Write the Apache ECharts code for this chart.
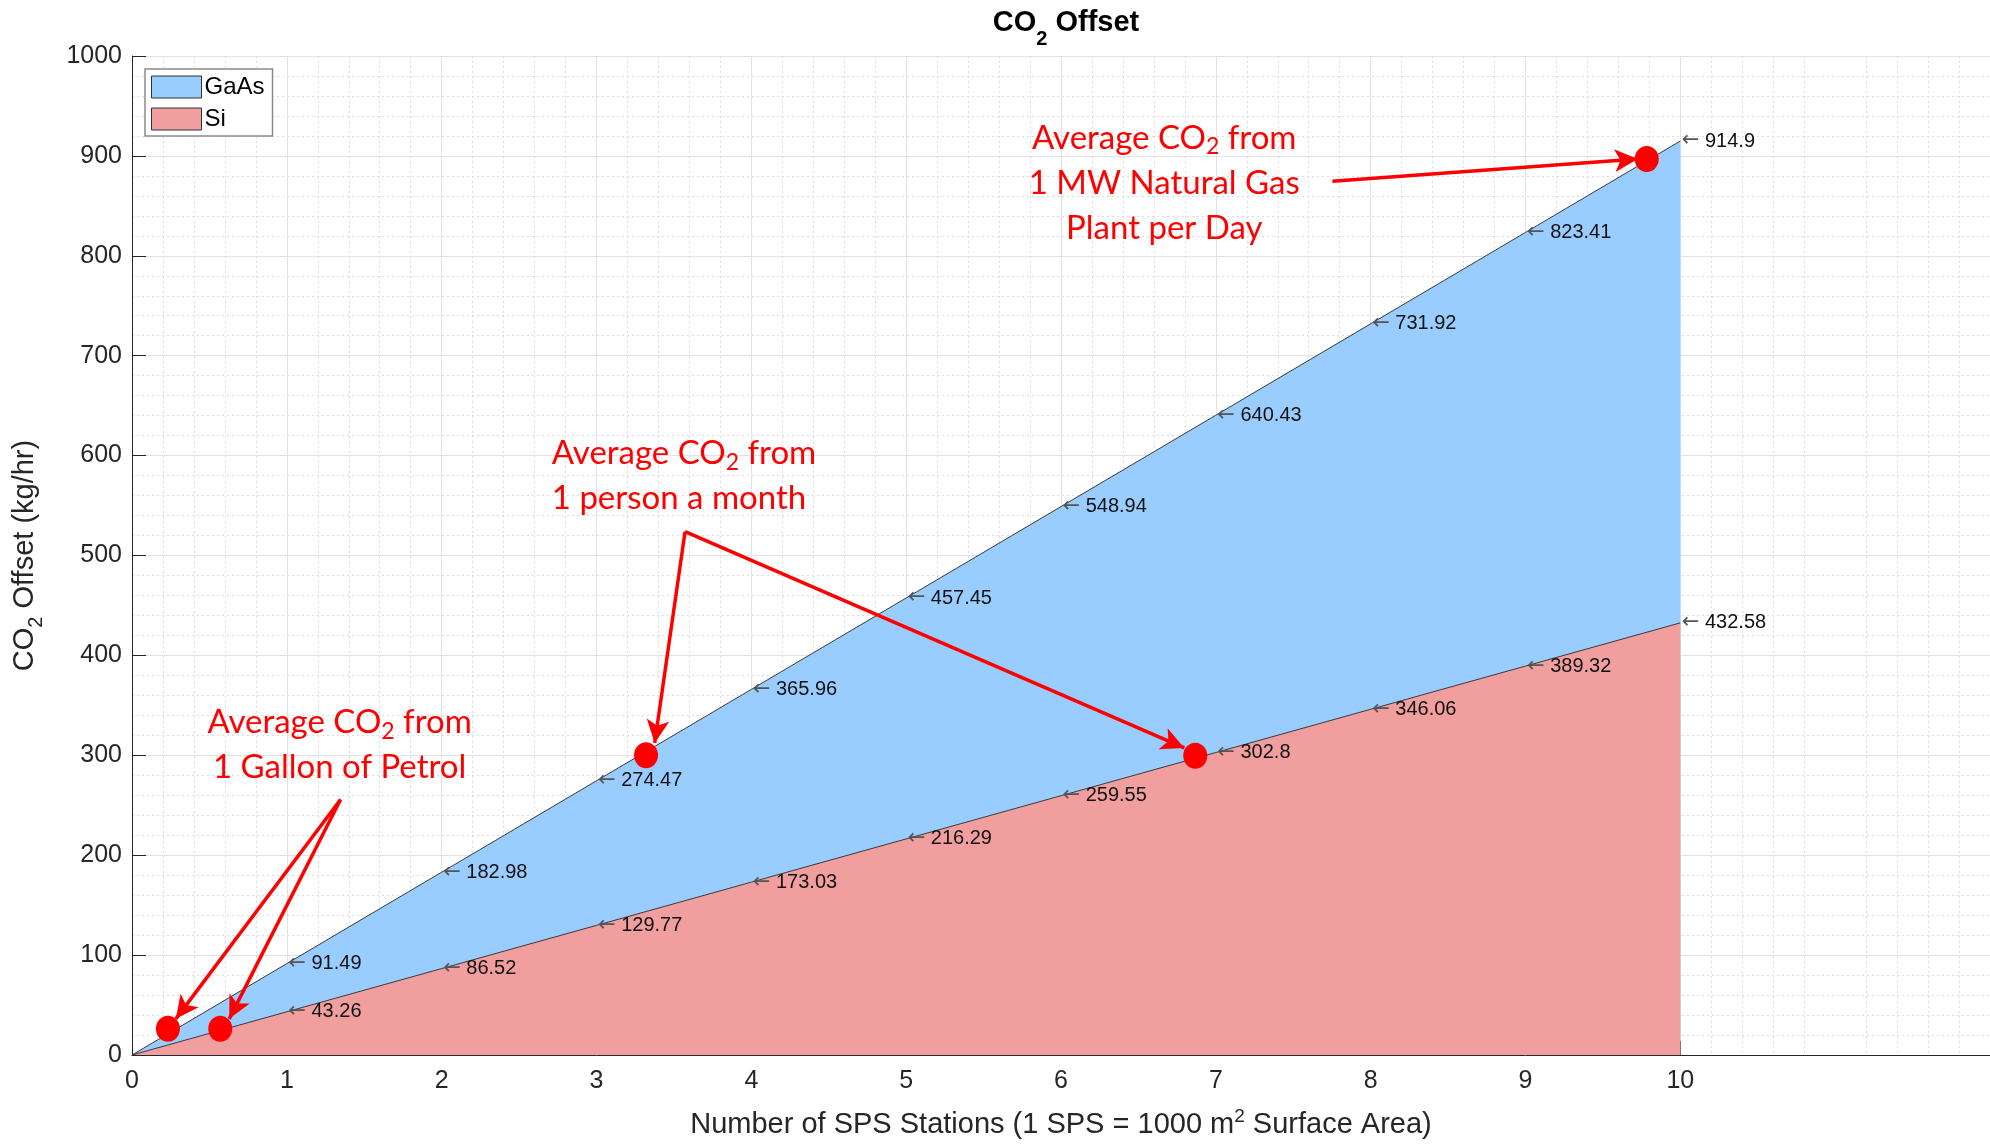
<!DOCTYPE html>
<html><head><meta charset="utf-8">
<script src="https://cdn.jsdelivr.net/npm/echarts@6/dist/echarts.min.js"></script>
<style>html,body{margin:0;padding:0;background:#fff}#c{width:1990px;height:1144px}</style>
</head><body><div id="c"></div>
<script>
// ---- data ----
const stations   = [0,1,2,3,4,5,6,7,8,9,10];
const gaasOffset = [0,91.49,182.98,274.47,365.96,457.45,548.94,640.43,731.92,823.41,914.9];
const siOffset   = [0,43.26,86.52,129.77,173.03,216.29,259.55,302.8,346.06,389.32,432.58];
const xTickValues = [0,1,2,3,4,5,6,7,8,9,10];
const seriesNames = ['GaAs','Si'];
// annotation markers (red dots) and arrows, in data coordinates
const markerPoints = [[0.232,26.3],[0.57,26.3],[3.32,300],[6.867,299.5],[9.783,896.9]];
const arrowFrom = [[1.347,255.8],[1.347,255.8],[3.572,523.9],[3.572,523.9],[7.753,874.6]];
const arrowTo   = [[0.283,36.2],[0.628,36.2],[3.376,312.4],[6.796,307.4],[9.725,896.9]];
const noteText  = ['Average CO{s|2} from\n1 Gallon of Petrol',
                   'Average CO{s|2} from\n1 person a month',
                   'Average CO{s|2} from\n1 MW Natural Gas\nPlant per Day'];
const noteAt    = [[1.341,310.4],[2.708,580],[6.667,873]];
const noteLeftAligned = [false,true,false];

// ---- chart ----
const FONT = 'Liberation Sans';
const chart = echarts.init(document.getElementById('c'), null, {renderer:'canvas'});
const pairs = arr => stations.map((x,i)=>[x, arr[i]]);
const pointLabel = {
  show:true, position:'right', distance:1, fontSize:20, color:'#111', fontFamily:FONT,
  formatter: p => p.value[0] === 0 ? '' : '{a|\u2190} ' + p.value[1],
  rich:{ a:{fontSize:21, color:'#555', fontFamily:'DejaVu Sans'} }
};
const noteRich = {
  s:{fontSize:23, color:'#ff0000', fontFamily:'Lato', lineHeight:45, padding:[18,0,0,0]}
};
const areaSeries = (name, arr, color) => ({
  name, type:'line', data:pairs(arr), symbol:'circle', symbolSize:1, showSymbol:true,
  itemStyle:{color:'rgba(0,0,0,0)'},
  lineStyle:{color:'#3a3a3a', width:1},
  areaStyle:{color, opacity:1},
  label:pointLabel, emphasis:{disabled:true}, silent:true, animation:false
});

chart.setOption({
  animation:false,
  backgroundColor:'#fff',
  title:{
    text:'{b|CO}{s|2}{b| Offset}', left:1061, textAlign:'center', top:-8,
    textStyle:{ rich:{
      b:{fontSize:29, fontWeight:'bold', color:'#000', fontFamily:FONT},
      s:{fontSize:20, fontWeight:'bold', color:'#000', fontFamily:FONT, padding:[32,0,0,0]}
    }}
  },
  legend:{
    data:[
      {name:'GaAs', itemStyle:{color:'#99CCFF', borderColor:'#333', borderWidth:1}},
      {name:'Si', itemStyle:{color:'#F09E9E', borderColor:'#333', borderWidth:1}}
    ],
    orient:'vertical', left:145, top:69, icon:'rect', itemWidth:50, itemHeight:22, itemGap:8,
    padding:[6,8,5,6], backgroundColor:'#fff', borderColor:'#8a8a8a', borderWidth:1.5,
    textStyle:{fontSize:24, color:'#000', fontFamily:FONT, padding:[0,0,0,-2]},
    selectedMode:false
  },
  grid:{left:132, right:0, top:56, bottom:86, containLabel:false},
  xAxis:{
    type:'value', min:0, max:12, interval:1,
    name:'Number of SPS Stations (1 SPS = 1000 m{sup|2} Surface Area)',
    nameLocation:'middle', nameGap:52,
    nameTextStyle:{fontSize:29, color:'#262626', fontFamily:FONT,
      rich:{sup:{fontSize:19, color:'#262626', fontFamily:FONT, padding:[0,0,16,0]}}},
    axisLine:{show:true, lineStyle:{color:'#262626', width:1}},
    axisTick:{show:true, inside:true, length:14, customValues:xTickValues, lineStyle:{color:'#262626'}},
    axisLabel:{fontSize:25, color:'#262626', fontFamily:FONT, margin:14, customValues:xTickValues},
    splitLine:{show:true, lineStyle:{color:'#e2e2e2', width:1}},
    minorTick:{show:false, splitNumber:5},
    minorSplitLine:{show:true, lineStyle:{color:'#dcdcdc', width:1, type:[2,3]}}
  },
  yAxis:{
    type:'value', min:0, max:1000, interval:100,
    name:'CO{s|2} Offset (kg/hr)', nameLocation:'middle', nameGap:86,
    nameTextStyle:{fontSize:29, color:'#262626', fontFamily:FONT,
      rich:{s:{fontSize:20, color:'#262626', fontFamily:FONT, padding:[22,0,0,0]}}},
    axisLine:{show:true, lineStyle:{color:'#262626', width:1}},
    axisTick:{show:true, inside:true, length:14, lineStyle:{color:'#262626'}},
    axisLabel:{fontSize:25, color:'#262626', fontFamily:FONT, margin:10, formatter: v => String(v)},
    splitLine:{show:true, lineStyle:{color:'#e2e2e2', width:1}},
    minorTick:{show:false, splitNumber:5},
    minorSplitLine:{show:true, lineStyle:{color:'#dcdcdc', width:1, type:[2,3]}}
  },
  series:[
    areaSeries(seriesNames[0], gaasOffset, '#99CCFF'),
    areaSeries(seriesNames[1], siOffset, '#F09E9E'),
    {
      name:'markers', type:'scatter', data:markerPoints, symbol:'circle', symbolSize:[24,26],
      itemStyle:{color:'#ff0000', opacity:1}, silent:true, z:5,
      markLine:{
        silent:true, animation:false, symbol:['none','arrow'], symbolSize:20,
        lineStyle:{color:'#ff0000', width:3.5, type:'solid', opacity:1}, label:{show:false},
        emphasis:{disabled:true},
        data: arrowFrom.map((f,i)=>[
          {coord:f, symbol:'none'},
          {coord:arrowTo[i], symbol:'arrow', symbolSize:[17,23]}
        ])
      },
      markPoint:{
        silent:true, animation:false, symbol:'circle', symbolSize:1,
        itemStyle:{color:'rgba(0,0,0,0)'},
        data: noteAt.map((c,i)=>({
          coord:c,
          label:{show:true, position: noteLeftAligned[i] ? 'right' : 'inside', distance:0,
            align: noteLeftAligned[i] ? 'left' : 'center',
            fontSize:33, fontFamily:'Lato', lineHeight:45, color:'#ff0000',
            formatter: noteText[i], rich:noteRich}
        }))
      }
    }
  ]
});
</script></body></html>
